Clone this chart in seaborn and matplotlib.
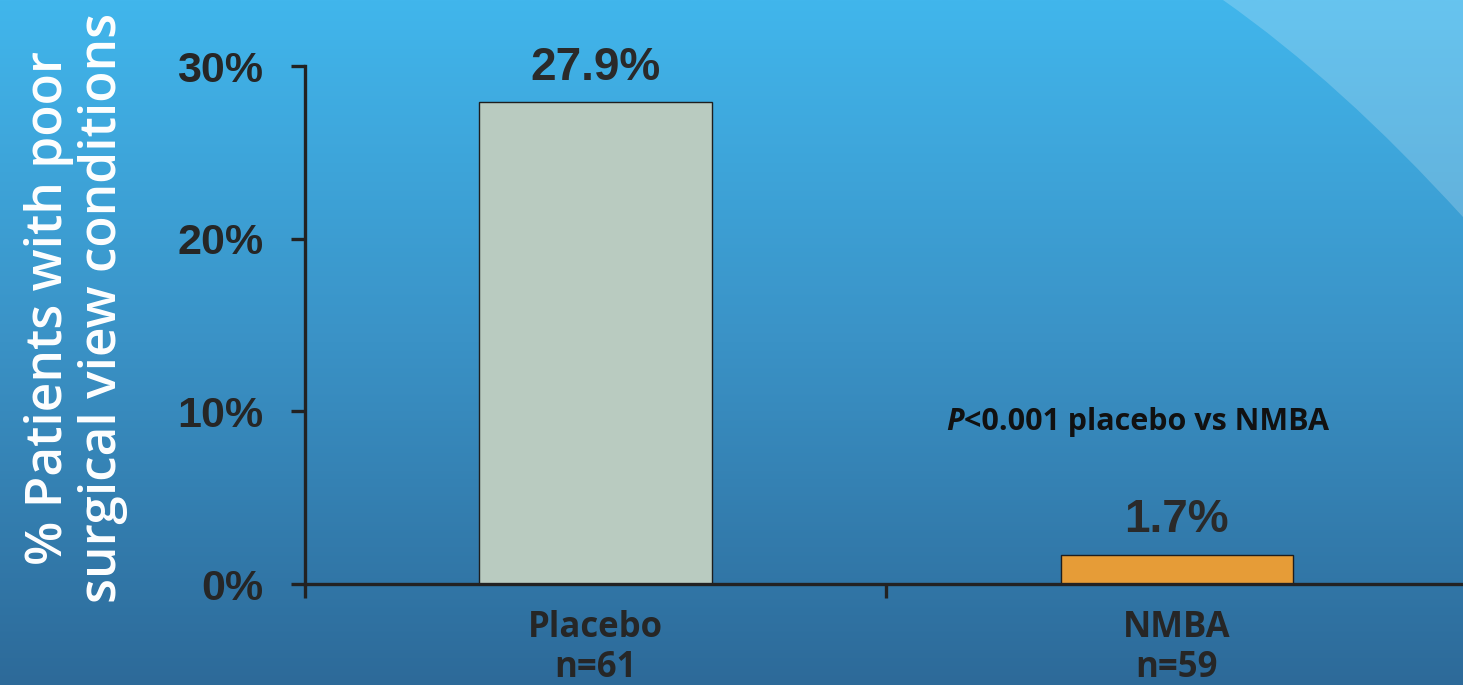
import numpy as np
import pandas as pd
import matplotlib
matplotlib.use("Agg")
import matplotlib.pyplot as plt
from matplotlib.path import Path
from matplotlib.patches import PathPatch
from matplotlib.colors import LinearSegmentedColormap
import seaborn as sns

# ---- data ----
categories = ["Placebo\nn=61", "NMBA\nn=59"]
values = [27.9, 1.7]
bar_colors = ["#b9cbc0", "#e69c37"]
ytick_values = [0, 10, 20, 30]
ytick_labels = ["0%", "10%", "20%", "30%"]
ylabel_text = "% Patients with poor\nsurgical view conditions"
p_italic = "P"
p_rest = "<0.001 placebo vs NMBA"

sns.set_style("ticks")
plt.rcParams["font.family"] = ["Open Sans", "DejaVu Sans"]

W, H = 1463, 685
fig = plt.figure(figsize=(W / 100, H / 100), dpi=100)

# ---- background gradient ----
bg = fig.add_axes([0, 0, 1, 1], zorder=-10)
cmap = LinearSegmentedColormap.from_list("bg", ["#2d6a99", "#3a92c6", "#41b6ec"])
grad = np.linspace(0, 1, 256).reshape(-1, 1)
bg.imshow(grad, aspect="auto", cmap=cmap, origin="lower", extent=[0, W, H, 0])
bg.set_xlim(0, W)
bg.set_ylim(H, 0)
verts = [(1223, 0), (1340, 82), (1463, 217), (1470, 217), (1470, -5), (1223, -5), (1223, 0)]
codes = [Path.MOVETO, Path.CURVE3, Path.CURVE3, Path.LINETO, Path.LINETO, Path.LINETO, Path.CLOSEPOLY]
bg.add_patch(PathPatch(Path(verts, codes), facecolor="white", alpha=0.2, edgecolor="none"))
bg.axis("off")

# ---- main axes ----
ax = fig.add_axes([305 / W, 101 / H, 1 - 305 / W + 0.003, (584 - 66) / H])
ax.set_facecolor("none")

df = pd.DataFrame({"group": categories, "pct": values})
sns.barplot(data=df, x="group", y="pct", hue="group", palette=bar_colors,
            width=0.4, edgecolor="#1e1e1e", linewidth=1.0, errorbar=None,
            legend=False, ax=ax, saturation=1)

ax.set_xlim(-0.5, 1.5)
ax.set_ylim(0, 30)
for s in ["top", "right"]:
    ax.spines[s].set_visible(False)
for s in ["left", "bottom"]:
    ax.spines[s].set_color("#222222")
    ax.spines[s].set_linewidth(2.4)

ax.set_yticks(ytick_values)
ax.set_yticklabels(ytick_labels, fontfamily="Liberation Sans", fontweight="bold",
                   fontsize=31, color="#262626")
ax.tick_params(axis="y", direction="out", length=10, width=2.4, color="#222222", pad=20)

ax.set_xticks([-0.5, 0.5])
ax.set_xticklabels(["", ""])
ax.tick_params(axis="x", which="major", direction="out", length=10, width=2.4, color="#222222")
ax.set_xticks([0, 1], minor=True)
ax.set_xticklabels(categories, minor=True, fontweight="bold", fontsize=25,
                   color="#262626", linespacing=1.15)
ax.tick_params(axis="x", which="minor", length=0, pad=19)
ax.set_xlabel("")
ax.set_ylabel("")

for c in ax.containers:
    ax.bar_label(c, fmt="%.1f%%", padding=9, fontfamily="Liberation Sans",
                 fontweight="bold", fontsize=33, color="#2a2a2a")

# p-value annotation
t1 = ax.text(0.604, 8.5, p_italic, fontsize=22, fontweight="bold", fontstyle="italic",
             color="#111111", ha="left", va="bottom")
ax.annotate(p_rest, xy=(1, 0), xycoords=t1, fontsize=22, fontweight="bold",
            color="#111111", ha="left", va="bottom")

# y label
fig.text(76 / W, 1 - 308 / H, ylabel_text, rotation=90, color="white",
         fontsize=37, fontweight="semibold", ha="center", va="center",
         multialignment="center", linespacing=1.08)

fig.savefig("out.png", dpi=100)
